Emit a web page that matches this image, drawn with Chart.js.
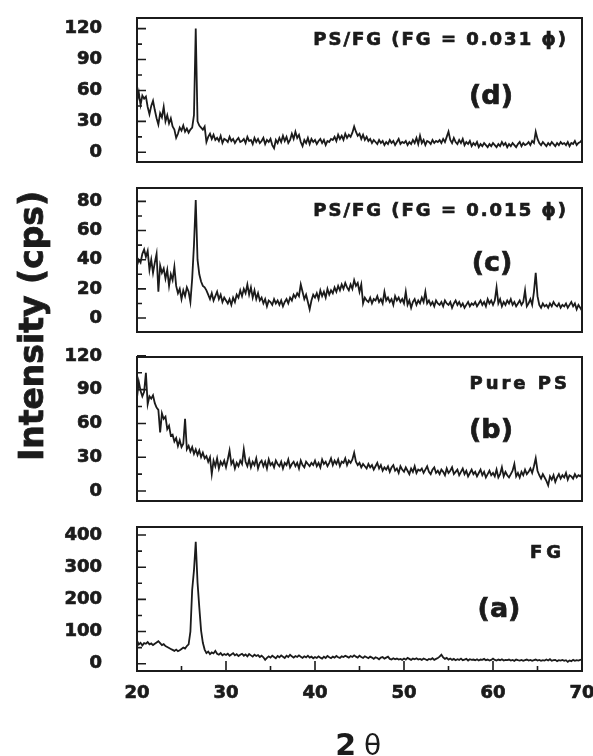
<!DOCTYPE html>
<html>
<head>
<meta charset="utf-8">
<script src="https://cdn.jsdelivr.net/npm/chart.js@4.4.1/dist/chart.umd.min.js"></script>
<style>
  body { margin: 0; background: #fff; }
  #wrap { position: relative; width: 593px; height: 756px; }
  #wrap canvas { position: absolute; left: 0; top: 0; }
</style>
</head>
<body>
<div id="wrap">
  <canvas id="pd" width="593" height="756"></canvas>
  <canvas id="pc" width="593" height="756"></canvas>
  <canvas id="pb" width="593" height="756"></canvas>
  <canvas id="pa" width="593" height="756"></canvas>
</div>
<script>
// 2-theta sampling: 20..70 deg, 0.2 deg step
const TWO_THETA_START = 20;
const TWO_THETA_STEP = 0.2;

// (d) PS/FG, FG = 0.031 phi
const psFg031 = [
  49, 58, 46, 55, 52, 54, 44, 37, 45, 50,
  41, 33, 27, 38, 34, 44, 30, 36, 28, 33,
  25, 22, 14, 18, 24, 21, 26, 20, 23, 19,
  22, 24, 36, 120, 30, 26, 24, 22, 25, 10,
  15, 18, 13, 17, 12, 14, 11, 16, 9, 13,
  12, 10, 15, 11, 13, 9, 12, 14, 10, 11,
  13, 9, 15, 11, 12, 8, 14, 10, 13, 9,
  11, 14, 8, 12, 10, 13, 7, 4, 12, 9,
  14, 10, 16, 11, 15, 9, 12, 18, 13, 20,
  14, 17, 10, 6, 12, 9, 14, 8, 13, 10,
  12, 8, 11, 13, 9, 12, 7, 11, 10, 13,
  12, 15, 11, 17, 13, 16, 12, 18, 14, 17,
  15, 19, 25, 20, 16, 18, 13, 17, 12, 15,
  11, 13, 9, 12, 10, 8, 12, 9, 11, 7,
  10, 8, 12, 9, 11, 7, 10, 13, 8, 10,
  9, 11, 7, 10, 8, 12, 9, 14, 8, 16,
  9, 12, 7, 11, 10, 8, 12, 9, 11, 10,
  12, 9, 13, 10, 15, 20, 12, 9, 14, 10,
  8, 12, 9, 13, 7, 10, 8, 11, 6, 9,
  7, 10, 5, 8, 6, 9, 7, 5, 8, 6,
  9, 7, 5, 8, 6, 10, 7, 9, 5, 8,
  6, 9, 7, 5, 8, 10, 6, 9, 7, 8,
  10, 7, 11, 9, 20, 13, 9, 7, 10, 8,
  6, 9, 7, 10, 8, 6, 9, 7, 10, 8,
  9, 7, 10, 6, 9, 8, 11, 7, 9, 10,
  12
];

// (c) PS/FG, FG = 0.015 phi
const psFg015 = [
  36, 40, 38, 44, 47, 42, 46, 33, 40, 31,
  38, 44, 18, 36, 31, 34, 27, 33, 22, 30,
  26, 35, 22, 17, 20, 13, 19, 15, 21, 18,
  11, 27, 50, 81, 40, 30, 25, 22, 21, 19,
  16, 13, 17, 12, 15, 18, 13, 16, 11, 14,
  12, 10, 13, 9, 14, 11, 16, 14, 19, 15,
  20, 17, 23, 16, 21, 14, 19, 13, 17, 12,
  14, 10, 13, 8, 12, 11, 9, 13, 10, 12,
  9, 12, 8, 11, 13, 10, 14, 12, 16, 14,
  17, 15, 23, 18, 13, 16, 11, 6, 12, 16,
  14, 17, 13, 19, 15, 18, 14, 20, 16, 19,
  17, 21, 18, 22, 19, 23, 20, 24, 21, 19,
  23, 20, 26, 22, 24, 18, 23, 10, 14, 12,
  11, 14, 10, 13, 12, 15, 11, 13, 10, 18,
  12, 14, 11, 13, 9, 15, 12, 14, 11, 13,
  10, 18, 9, 12, 7, 11, 13, 9, 12, 10,
  14, 11, 18, 10, 12, 9, 11, 8, 12, 10,
  9, 11, 8, 12, 10, 9, 11, 7, 10, 12,
  9, 11, 8, 10, 7, 9, 11, 8, 10, 9,
  11, 8, 10, 12, 9, 11, 8, 13, 10, 12,
  9, 12, 21, 10, 13, 8, 11, 9, 12, 10,
  13, 9, 11, 8, 10, 12, 9, 11, 19, 8,
  10, 13, 9, 18, 31, 15, 9, 7, 10, 8,
  9, 7, 10, 8, 11, 9, 8, 10, 7, 9,
  8, 10, 7, 9, 11, 8, 10, 6, 9, 7,
  5
];

// (b) pure PS
const purePs = [
  83, 97, 89, 84, 88, 105, 77, 84, 82, 85,
  78, 74, 72, 52, 69, 64, 66, 55, 58, 49,
  50, 44, 47, 40, 45, 39, 42, 64, 37, 40,
  35, 39, 33, 37, 32, 36, 30, 34, 29, 31,
  26, 30, 15, 27, 22, 29, 20, 26, 23, 27,
  21, 28, 36, 24, 27, 20, 25, 22, 27, 24,
  37, 26, 22, 28, 21, 26, 23, 29, 20, 25,
  27, 22, 26, 20, 28, 23, 25, 21, 27, 24,
  22, 26, 20, 25, 23, 28, 21, 24, 26, 22,
  25, 20, 27, 23, 21, 26, 24, 22, 25, 23,
  27, 22, 25, 21, 28, 24, 26, 22, 25, 29,
  23, 27, 24, 28, 22, 26, 25, 29, 23, 27,
  25, 28, 34, 26, 23, 25, 21, 24, 22, 20,
  24, 21, 23, 19, 22, 25, 20, 23, 18, 21,
  19, 22, 17, 21, 23, 18, 20, 16, 22, 19,
  17, 21, 18, 15, 20, 17, 22, 16, 19, 18,
  20, 16, 19, 22, 17, 15, 19, 21, 16, 18,
  15, 19, 17, 14, 20, 16, 18, 21, 15, 17,
  19, 14, 17, 20, 15, 18, 13, 16, 19, 15,
  17, 13, 16, 19, 14, 17, 12, 15, 18, 14,
  16, 13, 19, 12, 15, 21, 13, 17, 14, 12,
  15, 18, 24, 13, 16, 12, 17, 14, 19, 15,
  17, 20, 16, 22, 29, 18, 14, 11, 15, 12,
  9, 5, 13, 10, 14, 8, 12, 15, 11, 14,
  12, 16, 10, 14, 13, 11, 15, 12, 14, 13,
  15
];

// (a) FG
const fg = [
  72, 60, 65, 57, 64, 62, 67, 60, 63, 58,
  62, 66, 70, 64, 58, 61, 55, 52, 49, 46,
  43, 40, 44, 39, 42, 46, 50, 47, 55, 60,
  100, 230, 290, 379, 253, 175, 103, 65, 44, 33,
  38, 30, 35, 32, 40, 31, 28, 33, 26, 30,
  27, 31, 25, 29, 33, 26, 30, 24, 28, 31,
  25, 29, 23, 30, 26, 22, 28, 24, 27, 21,
  25, 20, 12, 18, 23, 19, 25, 21, 17, 24,
  20, 26, 22, 18, 25, 21, 28, 23, 19, 24,
  21, 26, 22, 18, 23, 20, 25, 19, 22, 17,
  21, 18, 23, 19, 16, 22, 18, 24, 20, 17,
  22, 19, 24, 20, 18, 23, 21, 25, 22, 19,
  24, 21, 26, 22, 19, 25, 21, 18, 23, 20,
  17, 22, 19, 15, 20, 18, 14, 19, 21, 16,
  19, 22, 15, 13, 17, 14, 16, 13, 15, 12,
  16, 13, 18, 15, 12, 16, 14, 17, 13, 15,
  12, 16, 14, 11, 15, 13, 17, 12, 15, 18,
  22, 28, 20, 15, 18, 13, 16, 12, 15, 11,
  14, 12, 16, 11, 13, 15, 10, 14, 12, 13,
  11, 14, 10, 13, 12, 15, 11, 13, 10, 12,
  16, 12, 10, 13, 11, 14, 10, 12, 11, 13,
  10, 12, 9, 13, 11, 10, 12, 9, 11, 13,
  10, 12, 9, 11, 13, 10, 12, 9, 11, 10,
  13, 10, 14, 9, 11, 12, 8, 11, 10, 12,
  9, 11, 6, 10, 8, 12, 9, 11, 10, 12,
  13
];

// tick labels
const xTicks = [20, 30, 40, 50, 60, 70];
const dTicks = [0, 30, 60, 90, 120];
const cTicks = [0, 20, 40, 60, 80];
const bTicks = [0, 30, 60, 90, 120];
const aTicks = [0, 100, 200, 300, 400];

const INK = '#1b1b1b';
const FONT = 'DejaVu Sans';
const PLOT_LEFT = 137, PLOT_RIGHT = 582, PAGE_H = 756, X_AXIS_H = 40;

const twoTheta = fg.map((_, i) => +(TWO_THETA_START + i * TWO_THETA_STEP).toFixed(1));

// right-aligned text with manual letter spacing
function spacedText(ctx, txt, right, y, font, gap) {
  ctx.font = font;
  ctx.textAlign = 'left';
  ctx.textBaseline = 'middle';
  ctx.lineWidth = 0.7;
  const chars = Array.from(txt);
  const widths = chars.map(c => ctx.measureText(c).width);
  const total = widths.reduce((s, w) => s + w, 0) + gap * (chars.length - 1);
  let x = right - total;
  chars.forEach((c, i) => {
    ctx.fillText(c, x, y);
    ctx.strokeText(c, x, y);
    x += widths[i] + gap;
  });
}

const panelFrame = {
  id: 'panelFrame',
  afterDraw(chart, args, o) {
    const {ctx, chartArea: a} = chart;
    const y = chart.scales.y, x = chart.scales.x;
    ctx.save();
    ctx.strokeStyle = INK;
    ctx.fillStyle = INK;
    ctx.lineWidth = 2;
    ctx.strokeRect(a.left, a.top, a.right - a.left, a.bottom - a.top);

    // inward y ticks, major + minor
    const step = o.yTicks[1] - o.yTicks[0];
    ctx.lineWidth = 1.6;
    ctx.beginPath();
    o.yTicks.forEach(v => {
      const py = y.getPixelForValue(v);
      ctx.moveTo(a.left, py); ctx.lineTo(a.left + 9, py);
      const m = v + step / 2;
      if (m < y.max) {
        const pm = y.getPixelForValue(m);
        ctx.moveTo(a.left, pm); ctx.lineTo(a.left + 5, pm);
      }
    });
    if (o.xAxis) {
      for (let v = 25; v < 70; v += 5) {
        const px = x.getPixelForValue(v);
        ctx.moveTo(px, a.bottom); ctx.lineTo(px, a.bottom - (v % 10 === 0 ? 10 : 5));
      }
    }
    ctx.stroke();

    spacedText(ctx, o.label, o.labelX, o.labelY, 'bold 18px ' + FONT, o.gap);
    ctx.font = 'bold 27px ' + FONT;
    ctx.textAlign = 'center';
    ctx.fillText(o.tag, o.tagX, o.tagY);
    ctx.strokeText(o.tag, o.tagX, o.tagY);

    if (o.xAxis) {
      // axis titles
      ctx.font = 'bold 30px ' + FONT;
      ctx.textAlign = 'right';
      ctx.textBaseline = 'alphabetic';
      ctx.fillText('2', 356, 755);
      ctx.font = '28px ' + FONT;
      ctx.textAlign = 'left';
      ctx.fillText('\u03b8', 364, 755);

      ctx.save();
      ctx.translate(43, 326);
      ctx.rotate(-Math.PI / 2);
      ctx.font = 'bold 33px ' + FONT;
      ctx.textAlign = 'center';
      ctx.lineWidth = 0.8;
      ctx.fillText('Intensity (cps)', 0, 0);
      ctx.strokeText('Intensity (cps)', 0, 0);
      ctx.restore();
    }
    ctx.restore();
  }
};

function makePanel(id, values, yMin, yMax, yTicks, top, bottom, ann, xAxis) {
  const tickFont = {family: FONT, size: 18, weight: 'bold'};
  new Chart(document.getElementById(id), {
    type: 'line',
    data: {
      datasets: [{
        data: twoTheta.map((t, i) => ({x: t, y: values[i]})),
        borderColor: INK,
        borderWidth: 1.8,
        pointRadius: 0,
        tension: 0,
        fill: false
      }]
    },
    options: {
      responsive: false,
      animation: false,
      devicePixelRatio: 1,
      layout: {
        padding: {left: 0, right: 593 - PLOT_RIGHT, top: top,
                  bottom: PAGE_H - bottom - (xAxis ? X_AXIS_H : 0)}
      },
      plugins: {
        legend: {display: false},
        tooltip: {enabled: false},
        panelFrame: Object.assign({yTicks: yTicks, xAxis: xAxis}, ann)
      },
      scales: {
        x: {
          type: 'linear',
          min: 20, max: 70,
          display: xAxis,
          afterBuildTicks: s => { s.ticks = xTicks.map(v => ({value: v})); },
          afterFit: s => { s.height = xAxis ? X_AXIS_H : 0; s.paddingLeft = 0; s.paddingRight = 0; },
          grid: {display: false, drawTicks: false},
          border: {display: false},
          ticks: {color: INK, font: tickFont, padding: 12, maxRotation: 0,
                  textStrokeColor: INK, textStrokeWidth: 0.7}
        },
        y: {
          type: 'linear',
          min: yMin, max: yMax,
          afterBuildTicks: s => { s.ticks = yTicks.map(v => ({value: v})); },
          afterFit: s => { s.width = PLOT_LEFT; s.paddingTop = 0; s.paddingBottom = 0; },
          grid: {display: false, drawTicks: false},
          border: {display: false},
          ticks: {color: INK, font: tickFont, padding: 35,
                  textStrokeColor: INK, textStrokeWidth: 0.7}
        }
      }
    },
    plugins: [panelFrame]
  });
}

makePanel('pd', psFg031, -9.4, 130.3, dTicks, 18, 162,
  {label: 'PS/FG (FG = 0.031 \u03d5)', labelX: 566, labelY: 40, gap: 2,
   tag: '(d)', tagX: 491, tagY: 97}, false);
makePanel('pc', psFg015, -9.6, 89.2, cTicks, 188, 332,
  {label: 'PS/FG (FG = 0.015 \u03d5)', labelX: 566, labelY: 211, gap: 2,
   tag: '(c)', tagX: 492, tagY: 264}, false);
makePanel('pb', purePs, -8.9, 119, bTicks, 357, 501,
  {label: 'Pure PS', labelX: 567, labelY: 384, gap: 3,
   tag: '(b)', tagX: 491, tagY: 431}, false);
makePanel('pa', fg, -22.6, 425, aTicks, 527, 671,
  {label: 'FG', labelX: 561, labelY: 553, gap: 4,
   tag: '(a)', tagX: 499, tagY: 610}, true);
</script>
</body>
</html>
